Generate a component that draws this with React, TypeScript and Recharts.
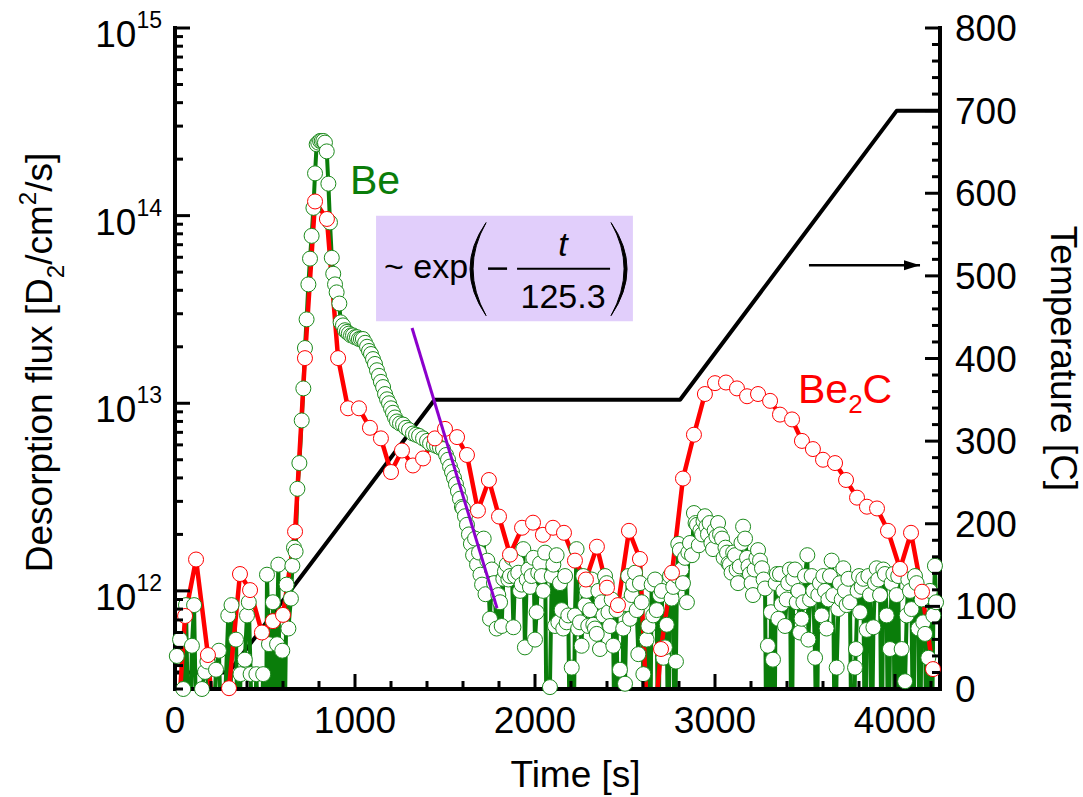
import React from 'react';
import { ComposedChart, Line, XAxis, YAxis, ReferenceArea, ReferenceDot } from 'recharts';

const FONT = "'Liberation Sans', Arial, Helvetica, sans-serif";

// ---------- axes ----------
const xMajorTicks = [0, 1000, 2000, 3000, 4000];
const xAllTicks = [0, 200, 400, 600, 800, 1000, 1200, 1400, 1600, 1800, 2000, 2200, 2400, 2600, 2800, 3000, 3200, 3400, 3600, 3800, 4000, 4200];
const fluxDecades = [11, 12, 13, 14, 15];
const tempMajorTicks = [0, 100, 200, 300, 400, 500, 600, 700, 800];
const X_DOMAIN = [0, 4250];
const FLUX_DOMAIN = [3e11, 1e15];
const TEMP_DOMAIN = [0, 800];
const BELOW = 1e11; // value below the axis floor (trace drops out of view)

// ---------- temperature programme ----------
const tempTime = [0, 298, 1442, 2806, 4010, 4250];
const tempValue = [20, 20, 350, 350, 700, 700];

// ---------- Be2C (red) ----------
const be2cTime = [17, 56, 117, 183, 239, 300, 361, 417, 483, 544, 600, 667, 722, 778, 844, 906, 961, 1022, 1083, 1144, 1200, 1261, 1322, 1378, 1444, 1500, 1567, 1622, 1683, 1744, 1800, 1861, 1928, 1989, 2044, 2100, 2161, 2222, 2283, 2344, 2400, 2461, 2522, 2583, 2639, 2700, 2761, 2822, 2883, 2944, 3000, 3061, 3122, 3178, 3239, 3306, 3361, 3428, 3483, 3544, 3600, 3667, 3728, 3789, 3844, 3900, 3961, 4028, 4089, 4150, 4211];
const be2cFlux = [2e11, 7.35e11, 1.47e12, 4.55e11, 1e11, 3.03e11, 1.23e12, 1.01e12, 6.0e11, 6.9e11, 7.45e11, 2.07e12, 1.74e13, 1.19e14, 9.6e13, 1.74e13, 9.4e12, 9.4e12, 7.4e12, 6.5e12, 4.3e12, 5.6e12, 4.66e12, 5.08e12, 6.5e12, 7.3e12, 6.6e12, 5.3e12, 2.68e12, 3.9e12, 2.49e12, 1.56e12, 2.17e12, 2.31e12, 1.99e12, 2.17e12, 2.04e12, 1.45e12, 1.15e12, 1.72e12, 1.04e12, 8.4e11, 2.09e12, 1.48e12, 1e11, 4.9e11, 1.25e12, 3.97e12, 6.8e12, 1.12e13, 1.28e13, 1.29e13, 1.2e13, 1.09e13, 1.12e13, 1.03e13, 8.7e12, 8.2e12, 6.3e12, 5.7e12, 5.0e12, 4.8e12, 3.9e12, 3.14e12, 2.81e12, 2.75e12, 2.09e12, 1.31e12, 2.04e12, 9.9e11, 3.83e11];

// ---------- Be (green) : [time, flux] ----------
const beReadings: [number, number][] = [
  [10, 4.5e11], [28, 5.5e11], [46, 3.0e11], [61, 8.4e11], [78, BELOW], [94, 5.1e11], [106, 8.4e11], [122, BELOW], [150, 3.0e11], [167, 3.7e11],
  [180, 4.2e11], [200, BELOW], [228, 3.8e11], [244, 4.8e11], [262, BELOW], [296, 7.4e11], [306, BELOW], [314, 8.4e11], [339, 5.5e11], [352, BELOW],
  [364, 3.6e11], [388, 4.3e11], [400, 7.4e11], [410, 8.7e11], [420, 3.6e11], [433, BELOW], [452, 3.6e11], [470, BELOW], [490, 3.6e11], [505, BELOW],
  [511, 1.22e12], [522, 5.2e11], [533, BELOW], [544, 8.7e11], [558, BELOW], [567, 5.2e11], [574, 1.38e12], [585, BELOW], [596, 4.8e11], [606, BELOW],
  [620, 1.08e12], [630, 6.3e11], [644, 9.1e11], [652, 1.36e12], [661, 1.7e12], [670, 1.62e12], [680, 3.5e12], [691, 4.8e12],
  [704, 8.1e12], [713, 1.2e13], [722, 1.97e13], [731, 2.8e13], [741, 4.3e13], [750, 5.9e13], [759, 7.8e13], [769, 1.1e14], [778, 1.68e14], [787, 2.4e14],
  [796, 2.45e14], [806, 2.5e14], [815, 2.5e14], [824, 2.5e14], [833, 2.45e14], [843, 2.2e14], [852, 1.48e14], [861, 9.2e13], [871, 5.96e13], [879, 4.9e13],
  [889, 4.3e13], [898, 3.9e13], [913, 3.4e13], [920, 2.7e13], [933, 2.6e13], [944, 2.45e13], [955, 2.4e13], [966, 2.35e13], [978, 2.3e13], [989, 2.3e13],
  [1000, 2.25e13], [1011, 2.25e13], [1022, 2.2e13], [1033, 2.2e13], [1044, 2.2e13], [1056, 2.1e13], [1067, 2.0e13], [1078, 1.9e13], [1089, 1.83e13], [1100, 1.72e13],
  [1111, 1.62e13], [1122, 1.5e13], [1133, 1.4e13], [1144, 1.3e13], [1156, 1.22e13], [1167, 1.12e13], [1178, 1.05e13], [1189, 1.0e13], [1200, 9.4e12], [1211, 8.9e12],
  [1222, 8.4e12], [1233, 8.0e12], [1250, 7.8e12], [1267, 7.7e12], [1283, 7.4e12], [1300, 7.2e12], [1322, 6.9e12], [1339, 6.8e12], [1356, 6.7e12], [1378, 6.5e12],
  [1400, 6.3e12], [1417, 6.1e12], [1439, 6.0e12], [1456, 5.9e12], [1472, 5.8e12], [1489, 5.7e12], [1506, 5.3e12], [1517, 5.0e12], [1528, 4.6e12], [1539, 4.3e12],
  [1550, 4.0e12], [1561, 3.7e12], [1572, 3.4e12], [1583, 3.1e12], [1594, 2.8e12], [1600, 2.75e12], [1611, 2.5e12], [1622, 2.25e12], [1633, 2.0e12], [1644, 1.78e12],
  [1656, 1.55e12], [1667, 1.9e12], [1678, 1.38e12], [1689, 1.6e12], [1697, 1.22e12], [1706, 1.08e12], [1715, 1.9e12], [1725, 9.6e11], [1735, 1.45e12], [1750, 7.1e11],
  [1760, 1.3e12], [1772, 1.1e12], [1787, 6.3e11], [1796, 9.5e11], [1806, 8.7e11], [1815, 6.5e11], [1824, 1.16e12], [1833, 1.27e12], [1843, 1.38e12], [1852, 1.15e12],
  [1861, 1.2e12], [1870, 1.5e12], [1880, 6.4e11], [1889, 1.2e12], [1898, 1.43e12], [1907, 1.25e12], [1917, 1.0e12], [1926, 1.08e12], [1935, 1.67e12], [1944, 5.0e11],
  [1954, 1.15e12], [1963, 1.3e12], [1972, 1.05e12], [1981, 1.2e12], [1991, 1.5e12], [2000, 5.5e11], [2009, 7.7e11], [2018, 1.25e12], [2028, 1.4e12], [2037, 1.2e12],
  [2046, 1.0e12], [2056, 1.6e12], [2066, BELOW], [2083, 3.07e11], [2093, 1.2e12], [2102, 1.38e12], [2111, 6.5e11], [2120, 1.55e12], [2130, 6.8e11], [2139, 1.1e12],
  [2148, 7.9e11], [2157, 6.3e11], [2167, 1.2e12], [2176, 6.8e11], [2185, 7.4e11], [2195, BELOW], [2204, 3.9e11], [2213, BELOW], [2222, 7.4e11], [2231, 1.67e12],
  [2240, 6.3e11], [2250, 6.8e11], [2259, 5.1e11], [2268, 1.2e12], [2278, 8.4e11], [2287, 1.0e12], [2296, 6.5e11], [2306, 7.9e11], [2315, 1.15e12], [2324, 6.6e11],
  [2333, 6.3e11], [2343, 5.9e11], [2352, 1.0e12], [2361, 4.9e11], [2370, 8.7e11], [2380, 7.4e11], [2389, 1.2e12], [2398, 1.1e12], [2408, 7.7e11], [2417, 6.5e11],
  [2426, 9.0e11], [2435, 5.1e11], [2444, BELOW], [2453, 7.9e11], [2463, BELOW], [2472, 3.8e11], [2481, BELOW], [2490, 6.3e11], [2500, 3.2e11], [2509, 8.5e11],
  [2518, 1.2e12], [2528, 7.1e11], [2537, 9.5e11], [2546, 1.08e12], [2556, 1.25e12], [2565, 7.9e11], [2574, 4.6e11], [2583, 1.1e12], [2593, 8.7e11], [2602, 3.6e11],
  [2611, BELOW], [2620, 5.5e11], [2630, 6.5e11], [2639, BELOW], [2648, 1.08e12], [2657, 7.4e11], [2667, 1.15e12], [2676, 7.9e11], [2685, BELOW], [2694, 9.5e11],
  [2704, 1.0e12], [2713, 4.4e11], [2722, 5.0e11], [2732, 6.6e11], [2741, BELOW], [2750, 1.2e12], [2759, 9.1e11], [2768, 1.05e12], [2776, BELOW], [2783, 4.2e11],
  [2789, 1.2e12], [2796, 1.78e12], [2805, 1.65e12], [2814, 1.3e12], [2822, 1.1e12], [2833, 1.5e12], [2844, 8.7e11], [2852, 1.6e12], [2861, 1.8e12], [2872, 1.55e12],
  [2883, 2.6e12], [2892, 2.3e12], [2900, 2.25e12], [2910, 1.75e12], [2919, 2.1e12], [2928, 2.0e12], [2936, 2.35e12], [2944, 2.5e12], [2952, 2.2e12], [2961, 2.0e12],
  [2970, 2.3e12], [2980, 1.8e12], [2989, 1.67e12], [2998, 2.1e12], [3008, 1.95e12], [3017, 2.3e12], [3028, 2.0e12], [3039, 1.9e12], [3048, 1.5e12], [3058, 1.7e12],
  [3067, 1.6e12], [3075, 1.4e12], [3083, 1.38e12], [3092, 1.25e12], [3101, 1.6e12], [3111, 1.55e12], [3120, 1.3e12], [3128, 1.1e12], [3138, 1.35e12], [3147, 1.8e12],
  [3156, 2.2e12], [3167, 1.9e12], [3178, 1.5e12], [3186, 1.35e12], [3194, 1.23e12], [3203, 1.1e12], [3211, 9.5e11], [3220, 1.3e12], [3230, 1.5e12], [3239, 1.65e12],
  [3250, 1.45e12], [3261, 1.32e12], [3270, 1.15e12], [3278, 1.03e12], [3286, BELOW], [3294, 5.1e11], [3303, BELOW], [3311, 7.7e11], [3322, 4.3e11], [3330, BELOW],
  [3337, 1.1e12], [3344, 1.23e12], [3352, 7.1e11], [3361, 1.23e12], [3370, 8.5e11], [3380, 1.0e12], [3389, 6.5e11], [3398, 9.0e11], [3407, 1.1e12], [3416, 1.3e12],
  [3426, BELOW], [3435, 1.16e12], [3444, 1.3e12], [3454, 8.7e11], [3463, 1.0e12], [3472, 6.0e11], [3481, 7.1e11], [3491, 8.7e11], [3500, 1.2e12], [3513, 1.55e12],
  [3519, 5.5e11], [3528, 9.0e11], [3537, 1.2e12], [3546, 1.0e12], [3556, 4.4e11], [3565, BELOW], [3574, 9.5e11], [3583, 1.1e12], [3593, 7.4e11], [3602, 1.2e12],
  [3611, 1.0e12], [3620, 6.3e11], [3630, 9e11], [3639, 1.2e12], [3648, 1.45e12], [3657, 9.5e11], [3666, BELOW], [3676, 3.9e11], [3685, 8e11], [3694, 1.1e12],
  [3704, 9.0e11], [3713, 1.32e12], [3722, 1.0e12], [3731, 8.4e11], [3741, 1.16e12], [3750, 8.7e11], [3759, BELOW], [3768, BELOW], [3778, 3.9e11], [3783, 4.9e11],
  [3792, 1.0e12], [3800, 1.2e12], [3806, 7.7e11], [3815, 1.05e12], [3824, 1.16e12], [3833, BELOW], [3843, 6.2e11], [3852, 1.2e12], [3861, 9.5e11], [3870, BELOW],
  [3880, 6.4e11], [3889, 1.1e12], [3898, 1.32e12], [3907, 1.15e12], [3917, 9.5e11], [3926, BELOW], [3935, 1.3e12], [3944, 1.23e12], [3954, 7.4e11], [3963, BELOW],
  [3972, 4.9e11], [3981, 1.1e12], [3991, 1.23e12], [4000, BELOW], [4009, 9.5e11], [4018, 1.2e12], [4028, BELOW], [4037, 4.9e11], [4046, BELOW], [4056, 3.3e11],
  [4065, 7.4e11], [4074, 1.15e12], [4083, 1.0e12], [4092, 8e11], [4102, BELOW], [4111, 1.2e12], [4120, 1.1e12], [4130, 6.3e11], [4139, BELOW], [4148, 9.0e11],
  [4157, 6.8e11], [4167, 5.9e11], [4176, BELOW], [4185, 4.4e11], [4194, 1.0e12], [4203, BELOW], [4213, 7.4e11], [4222, 1.36e12], [4228, 8.7e11],
];

// ---------- exponential fit segment ----------
const fitTime = [1317, 1789];
const fitFlux = [2.52e13, 8.1e11];

// ---------- annotation anchors ----------
const fitBoxTime = [1117, 2544];
const fitBoxFlux = [2.74e13, 1e14];
const beLabelAt = { t: 972, v: 1.31e14 };
const be2cLabelAt = { t: 3461, v: 1.0e13 };
const arrowTime = [3522, 4139];
const arrowTemp = [513, 513];

// ---------- derived tables for the library ----------
const tempData = tempTime.map((t, i) => ({ t, v: tempValue[i] }));
const be2cData = be2cTime.map((t, i) => ({ t, v: be2cFlux[i] }));
const beData = beReadings.map(([t, v]) => ({ t, v }));
const fitData = fitTime.map((t, i) => ({ t, v: fitFlux[i] }));
const arrowData = arrowTime.map((t, i) => ({ t, v: arrowTemp[i] }));

const fluxTicks: number[] = [];
fluxDecades.forEach((e) => {
  for (let m = 1; m <= 9; m++) {
    const v = m * Math.pow(10, e);
    if (v >= FLUX_DOMAIN[0] && v <= FLUX_DOMAIN[1]) fluxTicks.push(v);
  }
});
const tempTicks: number[] = [];
for (let v = TEMP_DOMAIN[0]; v <= TEMP_DOMAIN[1]; v += 20) tempTicks.push(v);

// ---------- tick renderers (inward ticks) ----------
const BottomTick = (props: any) => {
  const { x, y, payload } = props;
  const v = payload.value;
  const major = xMajorTicks.includes(v);
  return (
    <g>
      <line x1={x} x2={x} y1={y} y2={y - (major ? 15 : 8)} stroke="#000" strokeWidth={3} />
      {major ? (
        <text x={x} y={y + 44} textAnchor="middle" fontSize={37} fontFamily={FONT} fill="#000">{v}</text>
      ) : null}
    </g>
  );
};

const TopTick = (props: any) => {
  const { x, y, payload } = props;
  const major = xMajorTicks.includes(payload.value);
  return <line x1={x} x2={x} y1={y} y2={y + (major ? 15 : 8)} stroke="#000" strokeWidth={3} />;
};

const LeftTick = (props: any) => {
  const { x, y, payload } = props;
  const v = payload.value;
  const e = Math.floor(Math.log10(v) + 1e-9);
  const m = v / Math.pow(10, e);
  const major = Math.abs(m - 1) < 1e-6;
  return (
    <g>
      <line x1={x} x2={x + (major ? 15 : 8)} y1={y} y2={y} stroke="#000" strokeWidth={3} />
      {major ? (
        <text x={x - 13} y={y + 19} textAnchor="end" fontSize={37} fontFamily={FONT} fill="#000">
          10<tspan dy={-19} fontSize={23}>{e}</tspan>
        </text>
      ) : null}
    </g>
  );
};

const RightTick = (props: any) => {
  const { x, y, payload } = props;
  const v = payload.value;
  const major = tempMajorTicks.includes(v);
  return (
    <g>
      <line x1={x} x2={x - (major ? 15 : 8)} y1={y} y2={y} stroke="#000" strokeWidth={3} />
      {major ? (
        <text x={x + 15} y={y + 13} textAnchor="start" fontSize={37} fontFamily={FONT} fill="#000">{v}</text>
      ) : null}
    </g>
  );
};

// ---------- labels ----------
const leftTitle = (p: any) => {
  const vb = p.viewBox || { x: 0, y: 28, width: 175, height: 661 };
  const cx = vb.x + 52;
  const cy = vb.y + vb.height / 2 + 4;
  return (
    <text x={cx} y={cy} transform={`rotate(-90, ${cx}, ${cy})`} textAnchor="middle" fontSize={37} fontFamily={FONT} fill="#000">
      Desorption flux [D<tspan dy={12} fontSize={24}>2</tspan><tspan dy={-12}>/cm</tspan><tspan dy={-16} fontSize={24}>2</tspan><tspan dy={16}>/s]</tspan>
    </text>
  );
};

const rightTitle = (p: any) => {
  const vb = p.viewBox || { x: 940, y: 28, width: 143, height: 661 };
  const cx = vb.x + 111;
  const cy = vb.y + vb.height / 2;
  return (
    <text x={cx} y={cy} transform={`rotate(90, ${cx}, ${cy})`} textAnchor="middle" fontSize={37} fontFamily={FONT} fill="#000">
      Temperature [C]
    </text>
  );
};

const bottomTitle = (p: any) => {
  const vb = p.viewBox || { x: 175, y: 689, width: 765, height: 108 };
  return (
    <text x={vb.x + vb.width / 2 + 18} y={vb.y + 98} textAnchor="middle" fontSize={37} fontFamily={FONT} fill="#000">
      Time [s]
    </text>
  );
};

const beLabel = (p: any) => {
  const vb = p.viewBox || { x: 0, y: 0 };
  return (
    <text x={vb.x} y={vb.y} fontSize={41} fontFamily={FONT} fill="#0a7d0a">Be</text>
  );
};

const be2cLabel = (p: any) => {
  const vb = p.viewBox || { x: 0, y: 0 };
  return (
    <text x={vb.x} y={vb.y} fontSize={41} fontFamily={FONT} fill="#ff0000">
      Be<tspan dy={10} fontSize={26}>2</tspan><tspan dy={-10}>C</tspan>
    </text>
  );
};

const formula = (p: any) => {
  const vb = p.viewBox || { x: 376, y: 215 };
  const x = vb.x;
  const y = vb.y;
  return (
    <g fontFamily={FONT} fill="#000">
      <text x={x + 8} y={y + 62} fontSize={34}>~ exp</text>
      <path d={`M${x + 110},${y + 7} Q${x + 78},${y + 53} ${x + 110},${y + 100} Q${x + 84},${y + 53} ${x + 110},${y + 7} Z`} fill="#000" stroke="#000" strokeWidth={1} />
      <line x1={x + 112} x2={x + 131} y1={y + 53} y2={y + 53} stroke="#000" strokeWidth={2.5} />
      <line x1={x + 141} x2={x + 234} y1={y + 53} y2={y + 53} stroke="#000" strokeWidth={2} />
      <text x={x + 187} y={y + 40} textAnchor="middle" fontSize={34} fontStyle="italic">t</text>
      <text x={x + 187} y={y + 92} textAnchor="middle" fontSize={34}>125.3</text>
      <path d={`M${x + 235},${y + 7} Q${x + 267},${y + 53} ${x + 235},${y + 100} Q${x + 261},${y + 53} ${x + 235},${y + 7} Z`} fill="#000" stroke="#000" strokeWidth={1} />
    </g>
  );
};

const arrowHead = (p: any) => {
  if (p.index === arrowData.length - 1 && Number.isFinite(p.cx) && Number.isFinite(p.cy)) {
    return (
      <polygon key={`ah-${p.index}`} points={`${p.cx},${p.cy} ${p.cx - 16},${p.cy - 5} ${p.cx - 16},${p.cy + 5}`} fill="#000" />
    );
  }
  return <g key={`ah-${p.index}`} />;
};

const axisLineStyle = { stroke: '#000', strokeWidth: 4, strokeLinecap: 'square' as const };

export default function App() {
  return (
    <div style={{ position: 'absolute', left: 0, top: 0, width: 1083, height: 797, background: '#fff', fontFamily: FONT }}>
      <ComposedChart width={1083} height={797} margin={{ top: 28, right: 0, bottom: 0, left: 0 }}>
        <XAxis
          xAxisId="x"
          dataKey="t"
          type="number"
          domain={X_DOMAIN}
          allowDataOverflow
          ticks={xAllTicks}
          interval={0}
          tickSize={0}
          tickMargin={0}
          tickLine={false}
          tick={(p: any) => <BottomTick {...p} />}
          axisLine={axisLineStyle}
          height={108}
          label={{ content: bottomTitle }}
        />
        <XAxis
          xAxisId="top"
          orientation="top"
          dataKey="t"
          type="number"
          domain={X_DOMAIN}
          allowDataOverflow
          ticks={xAllTicks}
          interval={0}
          tickSize={0}
          tickMargin={0}
          tickLine={false}
          tick={(p: any) => <TopTick {...p} />}
          axisLine={axisLineStyle}
          height={0}
        />
        <YAxis
          yAxisId="flux"
          orientation="left"
          type="number"
          scale="log"
          domain={FLUX_DOMAIN}
          allowDataOverflow
          ticks={fluxTicks}
          interval={0}
          tickSize={0}
          tickMargin={0}
          tickLine={false}
          tick={(p: any) => <LeftTick {...p} />}
          axisLine={axisLineStyle}
          width={175}
          label={{ content: leftTitle }}
        />
        <YAxis
          yAxisId="temp"
          orientation="right"
          type="number"
          domain={TEMP_DOMAIN}
          allowDataOverflow
          ticks={tempTicks}
          interval={0}
          tickSize={0}
          tickMargin={0}
          tickLine={false}
          tick={(p: any) => <RightTick {...p} />}
          axisLine={axisLineStyle}
          width={143}
          label={{ content: rightTitle }}
        />

        <ReferenceArea
          xAxisId="x"
          yAxisId="flux"
          x1={fitBoxTime[0]}
          x2={fitBoxTime[1]}
          y1={fitBoxFlux[0]}
          y2={fitBoxFlux[1]}
          fill="#e1cefb"
          fillOpacity={1}
          stroke="none"
          label={{ content: formula }}
        />

        <Line
          xAxisId="x"
          yAxisId="temp"
          data={tempData}
          dataKey="v"
          type="linear"
          stroke="#000"
          strokeWidth={4}
          strokeLinejoin="round"
          dot={false}
          activeDot={false}
          isAnimationActive={false}
          zIndex={400}
        />
        <Line
          xAxisId="x"
          yAxisId="flux"
          data={beData}
          dataKey="v"
          type="linear"
          stroke="#0a7d0a"
          strokeWidth={4}
          strokeLinejoin="round"
          dot={{ r: 7.5, fill: '#fff', stroke: '#1b8a1b', strokeWidth: 1, clipDot: false }}
          activeDot={false}
          isAnimationActive={false}
          zIndex={410}
        />
        <Line
          xAxisId="x"
          yAxisId="flux"
          data={be2cData}
          dataKey="v"
          type="linear"
          stroke="#ff0000"
          strokeWidth={4.5}
          strokeLinejoin="round"
          dot={{ r: 7.5, fill: '#fff', stroke: '#ff0000', strokeWidth: 1, clipDot: false }}
          activeDot={false}
          isAnimationActive={false}
          zIndex={420}
        />
        <Line
          xAxisId="x"
          yAxisId="flux"
          data={fitData}
          dataKey="v"
          type="linear"
          stroke="#8b00cc"
          strokeWidth={3}
          dot={false}
          activeDot={false}
          isAnimationActive={false}
          zIndex={1500}
        />
        <Line
          xAxisId="x"
          yAxisId="temp"
          data={arrowData}
          dataKey="v"
          type="linear"
          stroke="#000"
          strokeWidth={2.5}
          dot={arrowHead}
          activeDot={false}
          isAnimationActive={false}
          zIndex={1500}
        />

        <ReferenceDot xAxisId="x" yAxisId="flux" x={beLabelAt.t} y={beLabelAt.v} r={0} fill="none" stroke="none" label={{ content: beLabel }} />
        <ReferenceDot xAxisId="x" yAxisId="flux" x={be2cLabelAt.t} y={be2cLabelAt.v} r={0} fill="none" stroke="none" label={{ content: be2cLabel }} />
      </ComposedChart>
    </div>
  );
}
